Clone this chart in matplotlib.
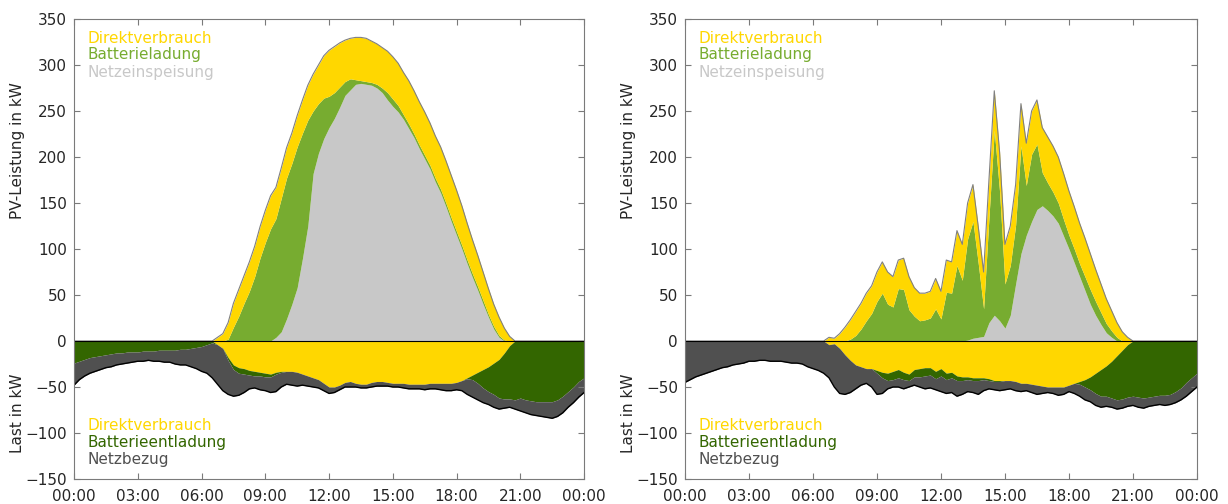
import numpy as np
import matplotlib.pyplot as plt

# Tagesverlauf im 15-Minuten-Raster (00:00 ... 24:00), Werte in kW
stunden = np.arange(97) * 0.25

# ---- linker Tag (sonnig) -------------------------------------------------
links_direkt = [
    0, 0, 0, 0, 0, 0, 0, 0, 0, 0, 0, 0,
    0, 0, 0, 0, 0, 0, 0, 0, 0, 0, 0, 0,
    0, 0, 0, 4, 8, 18, 26, 29, 30, 32, 33, 34,
    35, 36, 34, 33, 33, 33, 34, 36, 38, 40, 42, 46,
    50, 50, 48, 45, 44, 46, 47, 47, 45, 44, 44, 45,
    46, 46, 46, 47, 47, 47, 47, 46, 46, 46, 46, 46,
    45, 43, 40, 37, 34, 31, 28, 24, 20, 13, 5, 0,
    0, 0, 0, 0, 0, 0, 0, 0, 0, 0, 0, 0,
    0]
links_ladung = [
    0, 0, 0, 0, 0, 0, 0, 0, 0, 0, 0, 0,
    0, 0, 0, 0, 0, 0, 0, 0, 0, 0, 0, 0,
    0, 0, 0, 0, 0, 2, 15, 27, 41, 54, 70, 90,
    107, 122, 129, 145, 153, 153, 153, 136, 115, 68, 54, 44,
    34, 28, 22, 15, 12, 5, 3, 3, 3, 4, 5, 8,
    8, 7, 5, 5, 4, 4, 4, 4, 4, 4, 4, 4,
    4, 4, 4, 4, 4, 4, 3, 3, 2, 1, 0, 0,
    0, 0, 0, 0, 0, 0, 0, 0, 0, 0, 0, 0,
    0]
links_einspeisung = [
    0, 0, 0, 0, 0, 0, 0, 0, 0, 0, 0, 0,
    0, 0, 0, 0, 0, 0, 0, 0, 0, 0, 0, 0,
    0, 0, 0, 0, 0, 0, 0, 0, 0, 0, 0, 0,
    0, 0, 4, 10, 24, 40, 58, 90, 125, 182, 204, 220,
    232, 242, 254, 267, 273, 279, 280, 279, 278, 275, 270, 262,
    255, 249, 241, 231, 221, 209, 198, 187, 173, 161, 146, 130,
    115, 100, 84, 69, 55, 40, 26, 13, 4, 0, 0, 0,
    0, 0, 0, 0, 0, 0, 0, 0, 0, 0, 0, 0,
    0]
links_entladung = [
    24, 22, 20, 18, 17, 16, 15, 14, 13, 13, 12, 12,
    12, 11, 11, 11, 10, 10, 10, 10, 9, 9, 8, 7,
    6, 4, 2, 0, 0, 3, 5, 6, 6, 5, 5, 4,
    4, 3, 2, 1, 0, 0, 0, 0, 0, 0, 0, 0,
    0, 0, 0, 0, 0, 0, 0, 0, 0, 0, 0, 0,
    0, 0, 0, 0, 0, 0, 0, 0, 0, 0, 0, 0,
    0, 0, 1, 5, 12, 20, 27, 34, 42, 50, 58, 64,
    62, 64, 65, 66, 66, 66, 66, 64, 60, 55, 50, 44,
    40]
links_last = [
    48, 42, 38, 35, 33, 31, 29, 28, 26, 25, 24, 23,
    22, 22, 21, 22, 22, 23, 23, 25, 26, 26, 28, 30,
    33, 35, 40, 47, 54, 58, 60, 59, 56, 52, 51, 53,
    54, 56, 55, 50, 47, 48, 49, 48, 49, 50, 51, 54,
    57, 56, 53, 50, 50, 50, 51, 51, 50, 49, 49, 49,
    50, 50, 51, 52, 52, 52, 53, 52, 52, 53, 54, 54,
    53, 54, 58, 61, 64, 67, 69, 72, 74, 73, 72, 74,
    76, 78, 80, 81, 82, 83, 84, 82, 78, 72, 67, 61,
    56]

# ---- rechter Tag (wechselhaft) -------------------------------------------
rechts_direkt = [
    0, 0, 0, 0, 0, 0, 0, 0, 0, 0, 0, 0,
    0, 0, 0, 0, 0, 0, 0, 0, 0, 0, 0, 0,
    0, 0, 0, 4, 3, 8, 15, 21, 26, 28, 30, 30,
    32, 34, 35, 33, 31, 34, 36, 31, 30, 29, 29, 33,
    30, 35, 34, 38, 39, 39, 40, 40, 40, 41, 43, 43,
    43, 43, 44, 46, 46, 47, 48, 49, 50, 50, 50, 50,
    48, 46, 44, 42, 39, 35, 31, 27, 22, 16, 10, 4,
    0, 0, 0, 0, 0, 0, 0, 0, 0, 0, 0, 0,
    0]
rechts_ladung = [
    0, 0, 0, 0, 0, 0, 0, 0, 0, 0, 0, 0,
    0, 0, 0, 0, 0, 0, 0, 0, 0, 0, 0, 0,
    0, 0, 0, 0, 0, 0, 0, 2, 6, 13, 22, 30,
    43, 52, 40, 37, 57, 56, 34, 27, 22, 23, 25, 35,
    24, 53, 52, 82, 66, 110, 127, 80, 30, 114, 201, 140,
    48, 54, 64, 117, 54, 73, 71, 36, 30, 26, 22, 18,
    15, 15, 14, 15, 16, 15, 13, 10, 7, 4, 0, 0,
    0, 0, 0, 0, 0, 0, 0, 0, 0, 0, 0, 0,
    0]
rechts_einspeisung = [
    0, 0, 0, 0, 0, 0, 0, 0, 0, 0, 0, 0,
    0, 0, 0, 0, 0, 0, 0, 0, 0, 0, 0, 0,
    0, 0, 0, 0, 0, 0, 0, 0, 0, 0, 0, 0,
    0, 0, 0, 0, 0, 0, 0, 0, 0, 0, 0, 0,
    0, 0, 0, 0, 0, 1, 3, 4, 5, 20, 28, 22,
    14, 28, 62, 95, 115, 130, 143, 147, 142, 136, 128, 114,
    100, 85, 70, 55, 40, 28, 18, 9, 4, 0, 0, 0,
    0, 0, 0, 0, 0, 0, 0, 0, 0, 0, 0, 0,
    0]
rechts_entladung = [
    0, 0, 0, 0, 0, 0, 0, 0, 0, 0, 0, 0,
    0, 0, 0, 0, 0, 0, 0, 0, 0, 0, 0, 0,
    0, 0, 0, 0, 0, 0, 0, 0, 0, 0, 0, 0,
    3, 6, 8, 9, 9, 8, 7, 8, 9, 9, 8, 8,
    8, 7, 6, 5, 4, 3, 3, 3, 2, 2, 1, 1,
    0, 0, 0, 0, 0, 0, 0, 0, 0, 0, 0, 0,
    0, 0, 3, 8, 14, 22, 29, 33, 40, 48, 53, 57,
    60, 61, 62, 61, 60, 59, 59, 58, 55, 51, 45, 40,
    35]
rechts_last = [
    45, 42, 39, 37, 35, 33, 31, 29, 28, 26, 25, 24,
    22, 22, 21, 21, 22, 22, 22, 23, 24, 24, 25, 28,
    30, 32, 35, 40, 50, 57, 58, 56, 52, 48, 46, 50,
    58, 57, 52, 50, 50, 52, 50, 48, 50, 52, 51, 53,
    55, 57, 56, 60, 58, 55, 56, 58, 54, 52, 53, 54,
    53, 52, 54, 55, 54, 56, 58, 57, 56, 57, 59, 58,
    55, 57, 60, 64, 66, 70, 72, 71, 72, 74, 73, 71,
    70, 72, 73, 71, 70, 69, 70, 69, 67, 64, 60, 55,
    50]

x_ticks = [0, 3, 6, 9, 12, 15, 18, 21, 24]
x_labels = ['00:00', '03:00', '06:00', '09:00', '12:00', '15:00', '18:00', '21:00', '00:00']
y_ticks = [-150, -100, -50, 0, 50, 100, 150, 200, 250, 300, 350]

GELB = '#FFD700'
HELLGRUEN = '#77AC30'
HELLGRAU = '#C8C8C8'
DUNKELGRUEN = '#336600'
DUNKELGRAU = '#505050'
RAHMEN = '#7a7a7a'
SCHRIFT = '#262626'

plt.rcParams['font.family'] = ['DejaVu Sans']


def tagesprofil(ax, direkt, ladung, einspeisung, entladung, last):
    direkt = np.asarray(direkt, float)
    ladung = np.asarray(ladung, float)
    einspeisung = np.asarray(einspeisung, float)
    entladung = np.asarray(entladung, float)
    last = np.asarray(last, float)

    # PV-Seite: Einspeisung unten, Ladung darauf, Direktverbrauch oben
    pv = einspeisung + ladung + direkt
    ax.fill_between(stunden, 0, einspeisung, color=HELLGRAU, lw=0)
    ax.fill_between(stunden, einspeisung, einspeisung + ladung, color=HELLGRUEN, lw=0)
    ax.fill_between(stunden, einspeisung + ladung, pv, color=GELB, lw=0)
    ax.plot(stunden, pv, color='#808080', lw=0.8)

    # Lastseite nach unten: Direktverbrauch, Batterieentladung, Netzbezug
    ax.fill_between(stunden, 0, -direkt, color=GELB, lw=0)
    ax.fill_between(stunden, -direkt, -(direkt + entladung), color=DUNKELGRUEN, lw=0)
    ax.fill_between(stunden, -(direkt + entladung), -last, color=DUNKELGRAU, lw=0)
    ax.plot(stunden, -last, color='black', lw=1.0)
    ax.axhline(0, color='black', lw=0.8)

    ax.set_xlim(0, 24)
    ax.set_ylim(-150, 350)
    ax.set_xticks(x_ticks)
    ax.set_xticklabels(x_labels)
    ax.set_yticks(y_ticks)
    ax.tick_params(direction='in', top=True, right=True, length=4, width=0.8,
                   color=RAHMEN, labelsize=11, labelcolor=SCHRIFT)
    ax.tick_params(axis='x', pad=7)
    ax.tick_params(axis='y', pad=5)
    for sp in ax.spines.values():
        sp.set_color(RAHMEN)
        sp.set_linewidth(0.8)

    # Legenden als farbiger Text
    tx = 0.027
    for y, txt, col in [(0.9485, 'Direktverbrauch', GELB),
                        (0.912, 'Batterieladung', HELLGRUEN),
                        (0.8746, 'Netzeinspeisung', HELLGRAU),
                        (0.1065, 'Direktverbrauch', GELB),
                        (0.070, 'Batterieentladung', DUNKELGRUEN),
                        (0.0326, 'Netzbezug', DUNKELGRAU)]:
        ax.text(tx, y, txt, color=col, fontsize=11, transform=ax.transAxes,
                ha='left', va='baseline')


fig = plt.figure(figsize=(12.28, 5.04), dpi=100)
ax_l = fig.add_axes([0.0603, 0.0496, 0.4153, 0.9127])
ax_r = fig.add_axes([0.5578, 0.0496, 0.4169, 0.9127])

tagesprofil(ax_l, links_direkt, links_ladung, links_einspeisung, links_entladung, links_last)
tagesprofil(ax_r, rechts_direkt, rechts_ladung, rechts_einspeisung, rechts_entladung, rechts_last)

for xl in (18 / 1228, 628.5 / 1228):
    fig.text(xl, 1 - 151 / 504, 'PV-Leistung in kW', rotation=90, fontsize=11,
             color=SCHRIFT, ha='center', va='center')
    fig.text(xl, 1 - 413 / 504, 'Last in kW', rotation=90, fontsize=11,
             color=SCHRIFT, ha='center', va='center')

fig.savefig('out.png', dpi=100)
